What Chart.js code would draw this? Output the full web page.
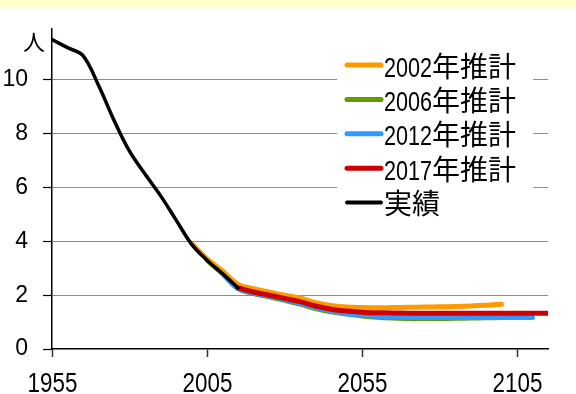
<!DOCTYPE html>
<html>
<head>
<meta charset="utf-8">
<script src="https://cdn.jsdelivr.net/npm/chart.js@4/dist/chart.umd.min.js"></script>
<style>
  html, body { margin: 0; padding: 0; background: #ffffff; }
  #wrap { position: relative; width: 576px; height: 394px; }
  canvas { display: block; }
</style>
</head>
<body>
<div id="wrap"><canvas id="c" width="576" height="394"></canvas></div>
<script>
// 高齢者1人を支える現役世代の人数（実績と各推計）
const actualYears = [1955, 1960, 1965, 1970, 1975, 1980, 1985, 1990, 1995, 2000, 2005, 2010, 2015];
const actualValues = [11.5, 11.2, 10.9, 9.8, 8.5, 7.35, 6.5, 5.7, 4.8, 3.9, 3.3, 2.8, 2.27];

const proj2002Years = [2000, 2005, 2010, 2015, 2020, 2025, 2030, 2035, 2040, 2045, 2050,
  2055, 2060, 2065, 2070, 2075, 2080, 2085, 2090, 2095, 2100];
const proj2002Values = [3.93, 3.35, 2.9, 2.4, 2.24, 2.12, 2.0, 1.9, 1.72, 1.62, 1.56,
  1.54, 1.53, 1.54, 1.55, 1.56, 1.57, 1.58, 1.6, 1.63, 1.66];

const proj2006Years = [2005, 2010, 2015, 2020, 2025, 2030, 2035, 2040, 2045, 2050, 2055,
  2060, 2065, 2070, 2075, 2080, 2085, 2090, 2095, 2100, 2105];
const proj2006Values = [3.3, 2.8, 2.25, 2.06, 1.94, 1.81, 1.67, 1.5, 1.38, 1.3, 1.23,
  1.18, 1.15, 1.13, 1.13, 1.13, 1.14, 1.15, 1.16, 1.17, 1.17];

const proj2012Years = [2010, 2015, 2020, 2025, 2030, 2035, 2040, 2045, 2050, 2055, 2060,
  2065, 2070, 2075, 2080, 2085, 2090, 2095, 2100, 2105, 2110];
const proj2012Values = [2.8, 2.25, 2.08, 1.96, 1.84, 1.7, 1.54, 1.42, 1.31, 1.25, 1.21,
  1.19, 1.18, 1.18, 1.18, 1.18, 1.17, 1.17, 1.17, 1.17, 1.17];

const proj2017Years = [2015, 2020, 2025, 2030, 2035, 2040, 2045, 2050, 2055, 2060, 2065,
  2070, 2075, 2080, 2085, 2090, 2095, 2100, 2105, 2110, 2115];
const proj2017Values = [2.27, 2.12, 2.0, 1.88, 1.76, 1.6, 1.48, 1.41, 1.37, 1.35, 1.34,
  1.33, 1.33, 1.33, 1.33, 1.33, 1.33, 1.33, 1.33, 1.33, 1.33];

const seriesLabels = ['2002年推計', '2006年推計', '2012年推計', '2017年推計', '実績'];
const seriesColors = ['#FF9900', '#669900', '#3399FF', '#CC0000', '#000000'];

const xTickYears = [1955, 2005, 2055, 2105];
const yTickValues = [0, 2, 4, 6, 8, 10];
const yUnitLabel = '人';

const latinFont = '"Liberation Sans", Arial, sans-serif';
const cjkFont = '"Noto Sans CJK JP", sans-serif';
const narrowScale = 0.8;   // 数字は幅を詰めて描く

function toPoints(xs, ys) {
  return xs.map((x, i) => ({ x: x, y: ys[i] }));
}

function lineSet(idx, xs, ys, width, order) {
  return {
    label: seriesLabels[idx],
    data: toPoints(xs, ys),
    borderColor: seriesColors[idx],
    backgroundColor: seriesColors[idx],
    borderWidth: width,
    pointRadius: 0,
    tension: 0.35,
    borderCapStyle: 'round',
    borderJoinStyle: 'round',
    fill: false,
    order: order
  };
}

// 英数字は狭幅、漢字は通常幅で一続きに描く
function drawMixedText(ctx, text, x, baseline, size, align) {
  const runs = text.match(/[\x00-\x7F]+|[^\x00-\x7F]+/g) || [];
  const parts = runs.map(r => {
    const latin = /^[\x00-\x7F]+$/.test(r);
    ctx.font = (latin ? size : size + 1) + 'px ' + (latin ? latinFont : cjkFont);
    const w = ctx.measureText(r).width * (latin ? narrowScale : 1);
    return { r, latin, w };
  });
  const total = parts.reduce((s, p) => s + p.w, 0);
  let cx = align === 'center' ? x - total / 2 : x;
  ctx.textAlign = 'left';
  ctx.textBaseline = 'alphabetic';
  parts.forEach(p => {
    ctx.font = (p.latin ? size : size + 1) + 'px ' + (p.latin ? latinFont : cjkFont);
    ctx.save();
    ctx.translate(cx, baseline);
    if (p.latin) ctx.scale(narrowScale, 1);
    ctx.fillText(p.r, 0, 0);
    ctx.restore();
    cx += p.w;
  });
}

// 上部の帯・単位・横軸の目盛ラベル
const decorPlugin = {
  id: 'decor',
  beforeDraw(chart) {
    const ctx = chart.ctx;
    ctx.save();
    ctx.fillStyle = '#ffffff';
    ctx.fillRect(0, 0, chart.width, chart.height);
    ctx.fillStyle = '#FFFFCC';
    ctx.fillRect(0, 0, chart.width, 7);
    ctx.restore();
  },
  afterDraw(chart) {
    const ctx = chart.ctx;
    ctx.save();
    ctx.fillStyle = '#000';
    ctx.font = '22px ' + cjkFont;
    ctx.textAlign = 'center';
    ctx.textBaseline = 'middle';
    ctx.fillText(yUnitLabel, 34, 42);

    const xs = chart.scales.x;
    xs.ticks.forEach(t => {
      const px = xs.getPixelForValue(t.value);
      drawMixedText(ctx, String(t.value), px + 0.5, 392, 28, 'center');
    });
    ctx.restore();
  }
};

// 凡例（白地のボックス）
const legendPlugin = {
  id: 'boxLegend',
  afterDatasetsDraw(chart) {
    const ctx = chart.ctx;
    ctx.save();
    ctx.fillStyle = '#ffffff';
    ctx.fillRect(337, 46, 196, 176);
    const x0 = 347, x1 = 381, textX = 384;
    const firstY = 65, step = 34.4;
    seriesLabels.forEach((lab, i) => {
      const y = firstY + i * step;
      ctx.strokeStyle = seriesColors[i];
      ctx.lineWidth = i === 4 ? 4 : 5;
      ctx.lineCap = 'round';
      ctx.beginPath();
      ctx.moveTo(x0, y);
      ctx.lineTo(x1, y);
      ctx.stroke();
      ctx.fillStyle = '#000';
      drawMixedText(ctx, lab, textX, y + 11.5, 27, 'left');
    });
    ctx.restore();
  }
};

new Chart(document.getElementById('c'), {
  type: 'line',
  data: {
    datasets: [
      lineSet(4, actualYears, actualValues, 3.5, 0),
      lineSet(3, proj2017Years, proj2017Values, 5, 1),
      lineSet(0, proj2002Years, proj2002Values, 5, 2),
      lineSet(2, proj2012Years, proj2012Values, 5, 3),
      lineSet(1, proj2006Years, proj2006Values, 5, 4)
    ]
  },
  options: {
    responsive: false,
    animation: false,
    devicePixelRatio: 1,
    layout: { padding: { top: 22, right: 28, left: 0, bottom: 0 } },
    plugins: {
      legend: { display: false },
      tooltip: { enabled: false }
    },
    scales: {
      x: {
        type: 'linear',
        min: 1955,
        max: 2115,
        afterBuildTicks(scale) {
          scale.ticks = xTickYears.map(v => ({ value: v }));
        },
        afterFit(scale) { scale.height = 45; },
        ticks: {
          display: false,
          autoSkip: false,
          maxRotation: 0,
          callback: v => String(v)
        },
        grid: {
          drawOnChartArea: false,
          drawTicks: true,
          tickLength: 8,
          tickColor: '#333',
          tickWidth: 1.5
        },
        border: { color: '#000', width: 1.5 }
      },
      y: {
        min: 0,
        max: 11.9,
        afterBuildTicks(scale) {
          scale.ticks = yTickValues.map(v => ({ value: v }));
        },
        afterFit(scale) { scale.width = 52; },
        ticks: {
          padding: 15,
          color: '#000',
          font: { family: latinFont, size: 23 },
          callback: v => String(v)
        },
        grid: {
          color: ctx => (ctx.tick && ctx.tick.value === 0) ? 'rgba(0,0,0,0)' : '#8c8c8c',
          lineWidth: 1,
          tickLength: 9,
          tickColor: '#000',
          tickWidth: 1.2
        },
        border: { color: '#000', width: 1.5 }
      }
    }
  },
  plugins: [decorPlugin, legendPlugin]
});
</script>
</body>
</html>
